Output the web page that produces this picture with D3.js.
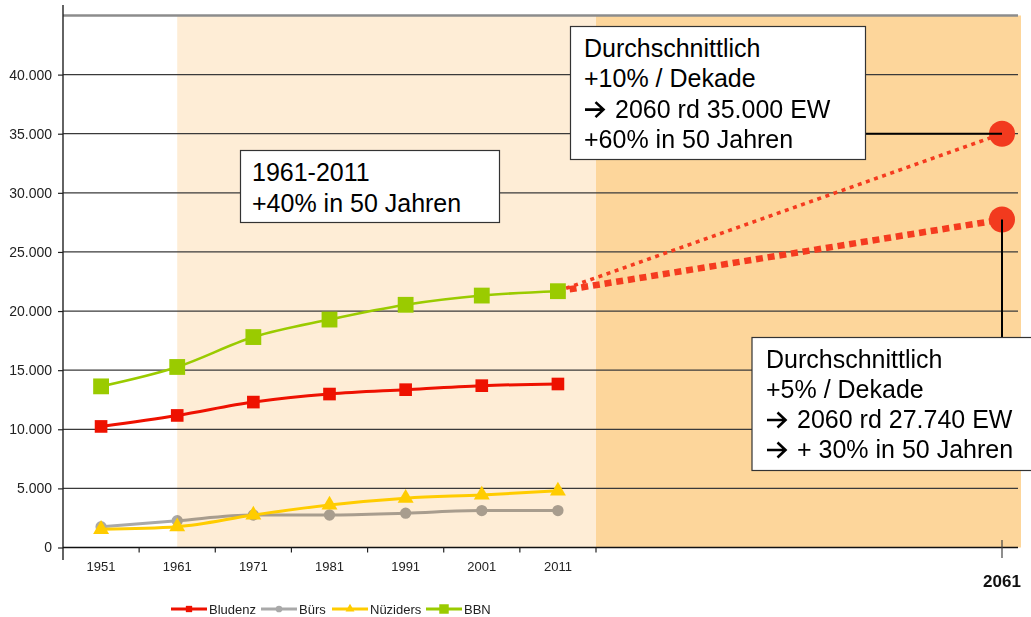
<!DOCTYPE html>
<html>
<head>
<meta charset="utf-8">
<script src="https://cdn.jsdelivr.net/npm/d3@7"></script>
<style>
  html, body { margin: 0; padding: 0; background: #fff; }
  svg { display: block; font-family: "Liberation Sans", Arial, sans-serif; }
</style>
</head>
<body>
<svg id="chart" width="1031" height="617"></svg>
<script>
// ---------- data ----------
const years = ["1951", "1961", "1971", "1981", "1991", "2001", "2011"];
const bludenz   = [10240, 11170, 12300, 12980, 13350, 13690, 13830];
const buers     = [1760, 2270, 2750, 2750, 2900, 3120, 3120];
const nueziders = [1540, 1760, 2750, 3600, 4170, 4450, 4790];
const bbn       = [13630, 15270, 17800, 19280, 20530, 21310, 21680];
const seriesNames = ["Bludenz", "Bürs", "Nüziders", "BBN"];
const projYears = [2011, 2061];
const projHigh  = [21680, 35000];
const projLow   = [21680, 27740];
const yTickValues = [0, 5000, 10000, 15000, 20000, 25000, 30000, 35000, 40000];
const yTop = 45000;
const highlightStart = "1961";
// lines: [arrowPrefix, text]
const boxTexts = {
  past: [[false, "1961-2011"], [false, "+40% in 50 Jahren"]],
  high: [[false, "Durchschnittlich"], [false, "+10% / Dekade"], [true, "2060 rd 35.000 EW"], [false, "+60% in 50 Jahren"]],
  low:  [[false, "Durchschnittlich"], [false, "+5% / Dekade"], [true, "2060 rd 27.740 EW"], [true, "+ 30% in 50 Jahren"]]
};

// ---------- setup ----------
const svg = d3.select("#chart");
const de = d3.formatLocale({ decimal: ",", thousands: ".", grouping: [3], currency: ["", " €"] });
const fmt = de.format(",d");

const left = 63, bandRight = 596, plotRight = 1021, axisRight = 1018;
const y = d3.scaleLinear().domain([0, yTop]).range([547.5, 15.5]);
const x = d3.scaleBand().domain(years).range([left, bandRight]).paddingInner(0).paddingOuter(0);
const cx = d => x(d) + x.bandwidth() / 2;
const xp = d3.scaleLinear().domain(projYears).range([cx("2011"), 1002]);

// ---------- backgrounds ----------
svg.append("rect").attr("x", cx(highlightStart)).attr("y", y(yTop))
  .attr("width", bandRight - cx(highlightStart)).attr("height", y(0) - y(yTop))
  .attr("fill", "#FEEDD6");
svg.append("rect").attr("x", bandRight).attr("y", y(yTop))
  .attr("width", plotRight - bandRight).attr("height", y(0) - y(yTop))
  .attr("fill", "#FDD69B");

// ---------- grid ----------
const grid = svg.append("g");
grid.selectAll("line.g").data(yTickValues.filter(d => d > 0)).join("line")
  .attr("x1", left).attr("x2", axisRight)
  .attr("y1", d => y(d)).attr("y2", d => y(d))
  .attr("stroke", "#3a3a3a").attr("stroke-width", 1.3);
grid.append("line").attr("x1", left).attr("x2", axisRight)
  .attr("y1", y(yTop)).attr("y2", y(yTop))
  .attr("stroke", "#8c8c8c").attr("stroke-width", 2.5);

// ---------- y axis ----------
const yAxis = d3.axisLeft(y).tickValues(yTickValues).tickSize(5).tickPadding(6)
  .tickFormat(d => fmt(d));
const gy = svg.append("g").attr("transform", `translate(${left},0)`).call(yAxis);
gy.select(".domain").remove();
gy.selectAll(".tick line").attr("stroke", "#222").attr("stroke-width", 1.2);
gy.selectAll(".tick text").attr("font-size", 14).attr("fill", "#222")
  .attr("font-family", "'Liberation Sans', Arial, sans-serif");
svg.append("line").attr("x1", left).attr("x2", left).attr("y1", 5).attr("y2", 560)
  .attr("stroke", "#222").attr("stroke-width", 1.4);

// ---------- x axis ----------
svg.append("line").attr("x1", left).attr("x2", axisRight).attr("y1", y(0)).attr("y2", y(0))
  .attr("stroke", "#111").attr("stroke-width", 1.4);
const bounds = years.map(d => x(d)).concat([bandRight]).slice(1);
svg.selectAll("line.xt").data(bounds).join("line")
  .attr("x1", d => d).attr("x2", d => d).attr("y1", y(0)).attr("y2", y(0) + 5)
  .attr("stroke", "#222").attr("stroke-width", 1.2);
svg.selectAll("text.xl").data(years).join("text")
  .attr("x", d => cx(d)).attr("y", 571).attr("text-anchor", "middle")
  .attr("font-size", 13).attr("fill", "#222").text(d => d);
svg.append("line").attr("x1", xp(2061)).attr("x2", xp(2061)).attr("y1", 540).attr("y2", 558)
  .attr("stroke", "#444").attr("stroke-width", 1.2);
svg.append("text").attr("x", xp(2061)).attr("y", 587).attr("text-anchor", "middle")
  .attr("font-size", 17).attr("font-weight", "bold").attr("fill", "#111").text("2061");

// ---------- series ----------
const series = [
  { name: seriesNames[0], values: bludenz,   color: "#EE1100", sym: d3.symbolSquare,   size: 160, w: 3,   blend: "normal" },
  { name: seriesNames[1], values: buers,     color: "#A9A9A9", sym: d3.symbolCircle,   size: 100, w: 3,   blend: "multiply" },
  { name: seriesNames[2], values: nueziders, color: "#FFCC00", sym: d3.symbolTriangle, size: 110, w: 3,   blend: "normal" },
  { name: seriesNames[3], values: bbn,       color: "#9ACB00", sym: d3.symbolSquare,   size: 250, w: 2.6, blend: "normal" }
];
const line = d3.line().x(d => cx(d.year)).y(d => y(d.v)).curve(d3.curveMonotoneX);

// projections (under markers)
const pl = d3.line().x((d, i) => xp(projYears[i])).y(d => y(d));
svg.append("path").attr("d", pl(projHigh)).attr("fill", "none")
  .attr("stroke", "#F53B1F").attr("stroke-width", 3.6).attr("stroke-dasharray", "4 4.6");
svg.append("path").attr("d", pl(projLow)).attr("fill", "none")
  .attr("stroke", "#F53B1F").attr("stroke-width", 6.5).attr("stroke-dasharray", "7 4.8");

series.forEach(s => {
  const pts = years.map((yr, i) => ({ year: yr, v: s.values[i] }));
  const g = svg.append("g").style("mix-blend-mode", s.blend);
  g.append("path").attr("d", line(pts)).attr("fill", "none")
    .attr("stroke", s.color).attr("stroke-width", s.w);
  g.selectAll("path.m").data(pts).join("path")
    .attr("d", d3.symbol(s.sym, s.size))
    .attr("transform", d => `translate(${cx(d.year)},${y(d.v)})`)
    .attr("fill", s.color);
});

// end circles
const ends = [projHigh[1], projLow[1]];
svg.selectAll("circle.end").data(ends).join("circle")
  .attr("cx", xp(2061)).attr("cy", d => y(d)).attr("r", 13).attr("fill", "#F23A1E");

// connectors
svg.append("line").attr("x1", 866).attr("x2", xp(2061)).attr("y1", y(projHigh[1])).attr("y2", y(projHigh[1]))
  .attr("stroke", "#000").attr("stroke-width", 2);
svg.append("line").attr("x1", xp(2061)).attr("x2", xp(2061)).attr("y1", y(projLow[1])).attr("y2", 338)
  .attr("stroke", "#000").attr("stroke-width", 2);

// ---------- text boxes ----------
function box(x0, y0, w, h, lines, tx, ty0, lh) {
  const g = svg.append("g");
  g.append("rect").attr("x", x0).attr("y", y0).attr("width", w).attr("height", h)
    .attr("fill", "#fff").attr("stroke", "#333").attr("stroke-width", 1.2);
  lines.forEach((ln, i) => {
    const ty = ty0 + i * lh;
    let tx2 = tx;
    if (ln[0]) {
      g.append("path")
        .attr("d", "M0,-8 L18,-8 M10.5,-15.5 L18.5,-8 L10.5,-0.5")
        .attr("transform", `translate(${tx + 1},${ty})`)
        .attr("fill", "none").attr("stroke", "#000").attr("stroke-width", 2.6)
        .attr("stroke-linejoin", "miter").attr("stroke-linecap", "butt");
      tx2 = tx + 31;
    }
    g.append("text").attr("x", tx2).attr("y", ty)
      .attr("font-size", 25).attr("fill", "#000").text(ln[1]);
  });
}
box(240.5, 150.5, 259, 72, boxTexts.past, 252, 181, 31);
box(570.5, 26.5, 295, 133, boxTexts.high, 584, 57, 30.3);
box(752, 337.5, 295, 133, boxTexts.low, 766, 368, 30);

// ---------- legend ----------
const legX = [171, 261, 332, 426];
const legY = 609;
const lg = svg.append("g");
series.forEach((s, i) => {
  const g = lg.append("g");
  g.append("line").attr("x1", legX[i]).attr("x2", legX[i] + 36).attr("y1", legY).attr("y2", legY)
    .attr("stroke", s.color).attr("stroke-width", 3);
  const sz = i === 3 ? 90 : (i === 0 ? 40 : 35);
  g.append("path").attr("d", d3.symbol(s.sym, sz))
    .attr("transform", `translate(${legX[i] + 18},${legY})`).attr("fill", s.color);
  g.append("text").attr("x", legX[i] + 38).attr("y", legY + 5)
    .attr("font-size", 13).attr("fill", "#222").text(s.name);
});
</script>
</body>
</html>
